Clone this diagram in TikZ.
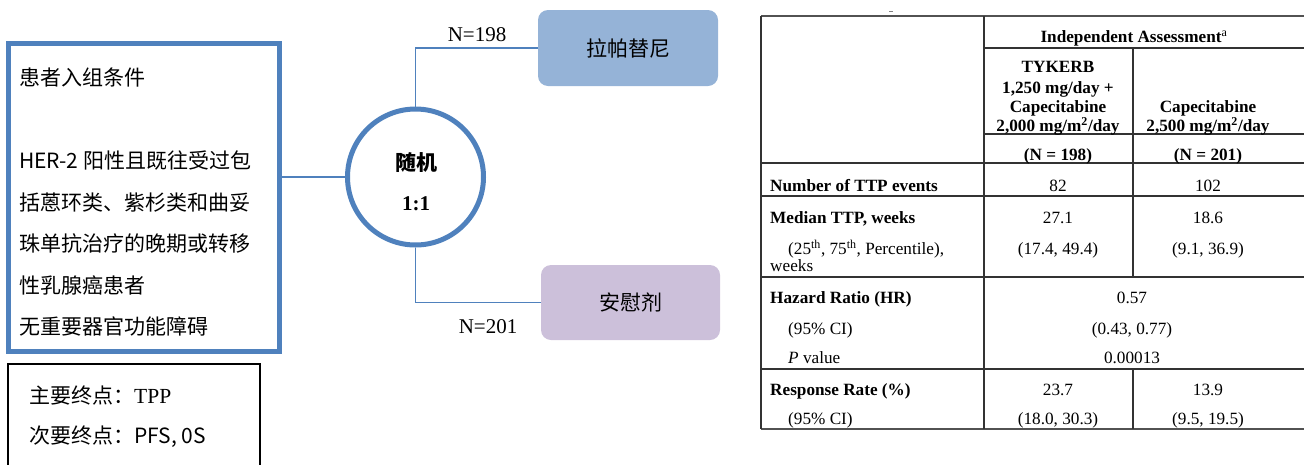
\documentclass[tikz,border=0pt]{standalone}
\usepackage{fontspec}
\setmainfont{Liberation Serif}
\newfontfamily\cjk{Noto Sans CJK SC}
\definecolor{bblue}{HTML}{4F81BD}
\definecolor{lapafill}{HTML}{95B3D7}
\definecolor{placfill}{HTML}{CCC0DA}
\definecolor{tline}{HTML}{333333}
\begin{document}
\begin{tikzpicture}[x=1pt,y=-1pt,
  cn/.style={font=\cjk\fontsize{21}{24}\selectfont, anchor=base west, inner sep=0},
  tr/.style={font=\fontsize{21}{24}\selectfont, anchor=base, inner sep=0},
  tb/.style={font=\fontsize{17.2}{20}\selectfont, inner sep=0},
  tbl/.style={tb, anchor=base west},
  tbc/.style={tb, anchor=base},
  conn/.style={draw=bblue, line width=1.6},
  armbox/.style={rounded corners=10, minimum width=180, minimum height=76, inner sep=0,
    font=\cjk\fontsize{21}{24}\selectfont},
  grid/.style={draw=tline, line width=1.1},
  gridthick/.style={draw=tline!85, line width=1.6}]
\useasboundingbox (0,0) rectangle (1304,464);
\clip (0,0) rectangle (1304,464);

% left inclusion box
\node[draw=bblue, line width=5, minimum width=271, minimum height=307.5, inner sep=0] (lbox) at (144,197.25) {};
\node[cn] (l1) at (19,85) {患者入组条件};
\node[cn] (l2) at (19,168) {HER-2 阳性且既往受过包};
\node[cn] (l3) at (19,210) {括蒽环类、紫杉类和曲妥};
\node[cn] (l4) at (19,251.5) {珠单抗治疗的晚期或转移};
\node[cn] (l5) at (19,293.5) {性乳腺癌患者};
\node[cn] (l6) at (19,334.5) {无重要器官功能障碍};

% endpoints box
\node[draw=black, line width=2, minimum width=252, minimum height=120, inner sep=0] (ebox) at (134,424) {};
\node[anchor=base west, inner sep=0] (e1) at (29,403) {\cjk\fontsize{21}{24}\selectfont 主要终点：\fontsize{21.5}{24}\rmfamily TPP};
\node[anchor=base west, inner sep=0] (e2) at (29,443) {\cjk\fontsize{21}{24}\selectfont 次要终点：PFS, 0S};

% randomisation circle
\node[circle, draw=bblue, line width=5, fill=white, minimum size=136, inner sep=0] (rand) at (415.5,177) {};
\node[anchor=base, inner sep=0, font=\cjk\bfseries\fontsize{21}{24}\selectfont] (r1) at (416,170) {随机};
\node[tr, font=\bfseries\fontsize{21}{24}\selectfont] (r2) at (416,210.5) {1:1};

% arms
\node[armbox, fill=lapafill] (lapa) at (628,48) {拉帕替尼};
\node[armbox, fill=placfill, minimum width=179, minimum height=75] (plac) at (630.5,302.5) {安慰剂};

% connectors
\draw[conn] (lbox.east |- rand.west) -- (rand.west);
\draw[conn] (rand.north) |- (lapa.west);
\draw[conn] (rand.south) |- (plac.west);
\node[tr] (n198) at (477,41.5) {N=198};
\node[tr] (n201) at (488,333.5) {N=201};

% table grid
\draw[gray, line width=1] (889,11) -- (893,11);
\draw[gridthick] (761,16) -- (1304,16);
\draw[gridthick] (761,429) -- (1304,429);
\draw[grid] (761,16) -- (761,429);
\draw[grid] (984,16) -- (984,429);
\draw[grid] (1133,48) -- (1133,277);
\draw[grid] (1133,369) -- (1133,429);
\draw[grid] (984,48) -- (1304,48);
\draw[grid] (984,134) -- (1304,134);
\draw[grid] (761,163) -- (1304,163);
\draw[grid] (761,196) -- (1304,196);
\draw[grid] (761,277) -- (1304,277);
\draw[grid] (761,369) -- (1304,369);

% table header
\node[tbc] (ia) at (1134,42.5) {\textbf{Independent Assessment}\textsuperscript{a}};
\node[tbc] (h1) at (1058,72.5) {\textbf{TYKERB}};
\node[tbc] (h2) at (1058,93) {\textbf{1,250 mg/day +}};
\node[tbc] (h3) at (1058,112.5) {\textbf{Capecitabine}};
\node[tbc] (h4) at (1058,131.5) {\textbf{2,000 mg/m\textsuperscript{2}/day}};
\node[tbc] (h5) at (1208,112.5) {\textbf{Capecitabine}};
\node[tbc] (h6) at (1208,131.5) {\textbf{2,500 mg/m\textsuperscript{2}/day}};
\node[tbc] (n1) at (1058,160.5) {\textbf{(N = 198)}};
\node[tbc] (n2) at (1208,160.5) {\textbf{(N = 201)}};

% table body
\node[tbl] (a1) at (770,191.5) {\textbf{Number of TTP events}};
\node[tbc] (a2) at (1058,191.5) {82};
\node[tbc] (a3) at (1208,191.5) {102};
\node[tbl] (b1) at (770,223.5) {\textbf{Median TTP, weeks}};
\node[tbc] (b2) at (1058,223.5) {27.1};
\node[tbc] (b3) at (1208,223.5) {18.6};
\node[tbl] (c1) at (788,254.5) {(25\textsuperscript{th}, 75\textsuperscript{th}, Percentile),};
\node[tbl] (c1b) at (770,271.5) {weeks};
\node[tbc] (c2) at (1058,254.5) {(17.4, 49.4)};
\node[tbc] (c3) at (1208,254.5) {(9.1, 36.9)};
\node[tbl] (d1) at (770,303.5) {\textbf{Hazard Ratio (HR)}};
\node[tbc] (d2) at (1132,303.5) {0.57};
\node[tbl] (e1t) at (788,334.5) {(95\% CI)};
\node[tbc] (e2t) at (1132,334.5) {(0.43, 0.77)};
\node[tbl] (f1) at (788,363.5) {\textit{P} value};
\node[tbc] (f2) at (1132,363.5) {0.00013};
\node[tbl] (g1) at (770,395.5) {\textbf{Response Rate (\%)}};
\node[tbc] (g2) at (1058,395.5) {23.7};
\node[tbc] (g3) at (1208,395.5) {13.9};
\node[tbl] (h1r) at (788,424.5) {(95\% CI)};
\node[tbc] (h2r) at (1058,424.5) {(18.0, 30.3)};
\node[tbc] (h3r) at (1208,424.5) {(9.5, 19.5)};
\end{tikzpicture}
\end{document}
